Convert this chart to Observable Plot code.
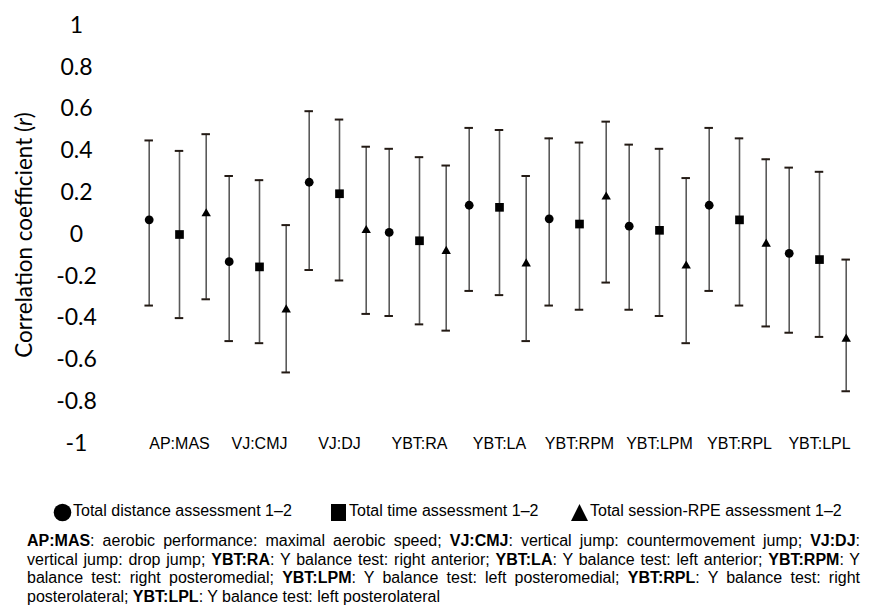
<!DOCTYPE html>
<html>
<head>
<meta charset="utf-8">
<script src="https://cdn.jsdelivr.net/npm/d3@7"></script>
<script src="https://cdn.jsdelivr.net/npm/@observablehq/plot@0.6"></script>
<style>
  body { margin: 0; background: #fff; }
  #wrap { width: 870px; }
  #chart svg { display: block; }
  #legend { position: relative; width: 870px; height: 62px; font: 16px "Liberation Sans", Arial, sans-serif; color: #000; }
  #legend .item { position: absolute; top: 32px; white-space: nowrap; line-height: 18px; }
  #legend svg { position: absolute; }
  #caption { margin-left: 27px; width: 833px; font: 16px "Liberation Sans", Arial, sans-serif; line-height: 18.5px; color: #000; }
  #caption div { text-align: justify; text-align-last: justify; white-space: nowrap; }
  #caption div.last { text-align-last: left; }
</style>
</head>
<body>
<div id="wrap">
  <div id="chart"></div>
  <div id="legend"></div>
  <div id="caption"></div>
</div>
<script>
// ---- Data ----
const categories = ["AP:MAS", "VJ:CMJ", "VJ:DJ", "YBT:RA", "YBT:LA", "YBT:RPM", "YBT:LPM", "YBT:RPL", "YBT:LPL"];
const seriesNames = ["Total distance assessment 1\u20132", "Total time assessment 1\u20132", "Total session-RPE assessment 1\u20132"];

const distanceR    = [0.07, -0.13, 0.25, 0.01, 0.14, 0.075, 0.04, 0.14, -0.09];
const distanceLow  = [-0.34, -0.51, -0.17, -0.39, -0.27, -0.34, -0.36, -0.27, -0.47];
const distanceHigh = [0.45, 0.28, 0.59, 0.41, 0.51, 0.46, 0.43, 0.51, 0.32];

const timeR    = [0.00, -0.155, 0.195, -0.03, 0.13, 0.05, 0.02, 0.07, -0.12];
const timeLow  = [-0.40, -0.52, -0.22, -0.43, -0.29, -0.36, -0.39, -0.34, -0.49];
const timeHigh = [0.40, 0.26, 0.55, 0.37, 0.50, 0.44, 0.41, 0.46, 0.30];

const rpeR    = [0.10, -0.36, 0.02, -0.08, -0.14, 0.18, -0.15, -0.045, -0.50];
const rpeLow  = [-0.31, -0.66, -0.38, -0.46, -0.51, -0.23, -0.52, -0.44, -0.75];
const rpeHigh = [0.48, 0.045, 0.42, 0.33, 0.28, 0.54, 0.27, 0.36, -0.12];

const yTicks = [-1, -0.8, -0.6, -0.4, -0.2, 0, 0.2, 0.4, 0.6, 0.8, 1];

const captionLines = [
  [["AP:MAS", true], [": aerobic performance: maximal aerobic speed; ", false], ["VJ:CMJ", true], [": vertical jump: countermovement jump; ", false], ["VJ:DJ", true], [":", false]],
  [["vertical jump: drop jump; ", false], ["YBT:RA", true], [": Y balance test: right anterior; ", false], ["YBT:LA", true], [": Y balance test: left anterior; ", false], ["YBT:RPM", true], [": Y", false]],
  [["balance test: right posteromedial; ", false], ["YBT:LPM", true], [": Y balance test: left posteromedial; ", false], ["YBT:RPL", true], [": Y balance test: right", false]],
  [["posterolateral; ", false], ["YBT:LPL", true], [": Y balance test: left posterolateral", false]]
];

// ---- Build tables ----
function rows(rArr, loArr, hiArr) {
  return categories.map((c, i) => ({cat: c, r: rArr[i], lo: loArr[i], hi: hiArr[i]}));
}
const seriesDefs = [
  {data: rows(distanceR, distanceLow, distanceHigh), symbol: "circle",   size: 4.4, dx: -30.3},
  {data: rows(timeR, timeLow, timeHigh),             symbol: "square",   size: 4.9, dx: 0},
  {data: rows(rpeR, rpeLow, rpeHigh),                symbol: "triangle", size: 3.5, dx: 26.7}
];

const W = 870, H = 470;
const mL = 136.75, mR = 8.75, mT = 25, mB = 27;
const step = (W - mL - mR) / categories.length;
const capHalf = 4.5;
const inset = step / 2 - capHalf;

const marks = [];
for (const s of seriesDefs) {
  marks.push(Plot.ruleX(s.data, {x: "cat", y1: "lo", y2: "hi", dx: s.dx, stroke: "#5a5a5a", strokeWidth: 1.6}));
  marks.push(Plot.tickY(s.data, {x: "cat", y: "lo", dx: s.dx, insetLeft: inset, insetRight: inset, stroke: "#231a14", strokeWidth: 2}));
  marks.push(Plot.tickY(s.data, {x: "cat", y: "hi", dx: s.dx, insetLeft: inset, insetRight: inset, stroke: "#231a14", strokeWidth: 2}));
}
for (const s of seriesDefs) {
  marks.push(Plot.dot(s.data, {x: "cat", y: "r", dx: s.dx, symbol: s.symbol, r: s.size, fill: "#000", stroke: "none"}));
}

const chart = Plot.plot({
  width: W,
  height: H,
  marginLeft: mL,
  marginRight: mR,
  marginTop: mT,
  marginBottom: mB,
  style: {background: "#fff", color: "#000", overflow: "visible"},
  x: {type: "band", domain: categories, padding: 0},
  y: {domain: [-1, 1]},
  marks: [
    Plot.axisY({ticks: yTicks, tickSize: 0, tickPadding: 60.75, textAnchor: "middle", tickFormat: d => String(d),
      fontSize: 23, fontFamily: "Lato, 'Open Sans', sans-serif", label: null}),
    Plot.axisX({tickSize: 0, tickPadding: -6, fontSize: 16, fontFamily: "'Liberation Sans', Arial, sans-serif", label: null}),
    ...marks
  ]
});
document.getElementById("chart").appendChild(chart);

// Y-axis title with italic r
const svg = d3.select(chart);
const t = svg.append("text")
  .attr("transform", "translate(32,235) rotate(-90)")
  .attr("text-anchor", "middle")
  .attr("font-family", "Lato, 'Open Sans', sans-serif")
  .attr("font-size", 22.5)
  .attr("fill", "#000");
t.append("tspan").text("Correlation coefficient (");
t.append("tspan").attr("font-style", "italic").text("r");
t.append("tspan").text(")");

// ---- Legend ----
const legend = d3.select("#legend");
const legendLayout = [
  {shape: "circle",   sx: 53,  tx: 73},
  {shape: "square",   sx: 331, tx: 349},
  {shape: "triangle", sx: 571, tx: 590}
];
legendLayout.forEach((L, i) => {
  const sv = legend.append("svg").attr("width", 19).attr("height", 19)
    .style("left", L.sx + "px").style("top", "33px");
  if (L.shape === "circle") sv.append("circle").attr("cx", 9.5).attr("cy", 9.5).attr("r", 8.8).attr("fill", "#000");
  else if (L.shape === "square") sv.append("rect").attr("x", 0).attr("y", 1).attr("width", 15).attr("height", 17).attr("fill", "#000");
  else sv.append("path").attr("d", "M8.5,1 L17,18 L0,18 Z").attr("fill", "#000");
  legend.append("div").attr("class", "item").style("left", L.tx + "px").text(seriesNames[i]);
});

// ---- Caption ----
const cap = d3.select("#caption");
captionLines.forEach((line, i) => {
  const d = cap.append("div").attr("class", i === captionLines.length - 1 ? "last" : null);
  line.forEach(([txt, bold]) => {
    if (bold) d.append("b").text(txt);
    else d.append("span").text(txt);
  });
});
</script>
</body>
</html>
